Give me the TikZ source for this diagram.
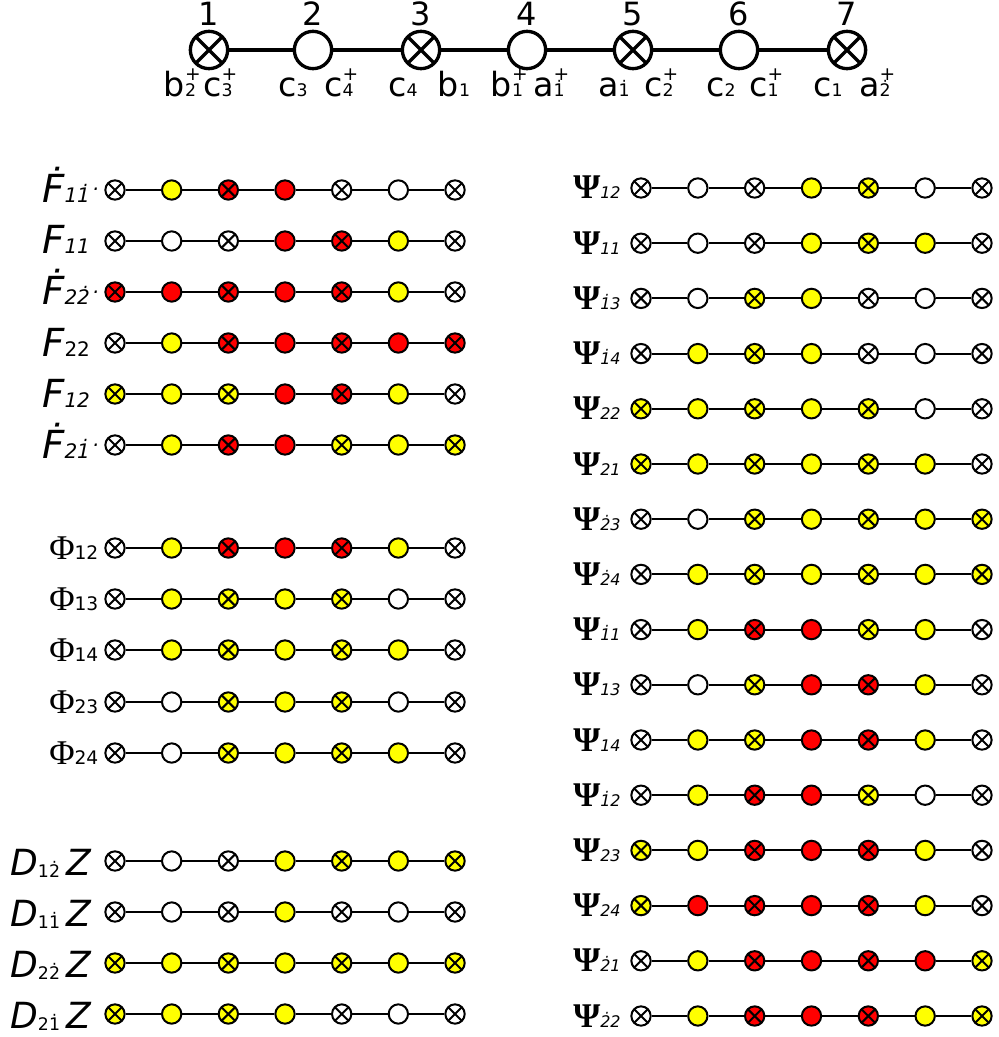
\documentclass[tikz,border=0pt]{standalone}
\usepackage{fontspec}
\setmainfont{DejaVu Sans}
\newfontfamily\grkfont{Liberation Serif}
\definecolor{yel}{RGB}{255,255,0}
\definecolor{rd}{RGB}{255,0,0}
\newcommand\ssb[2]{\rlap{\raisebox{0.5em}{\fontsize{14}{14}\selectfont #1}}{\fontsize{13}{13}\selectfont #2}}
\newcommand\sbonly[1]{{\fontsize{13}{13}\selectfont #1}}
\newcommand\fsub[1]{{\fontsize{15}{15}\selectfont #1}}
\newcommand\ftrail{\raisebox{9pt}{\fontsize{15}{15}\selectfont\,.}}
\newcommand\phisub[1]{{\fontsize{14}{14}\selectfont #1}}
\newcommand\psisub[1]{{\fontsize{12}{12}\selectfont\normalfont\itshape #1}}
\newcommand\dsub[1]{\raisebox{-2pt}{\fontsize{13}{13}\selectfont\upshape #1}}
\newcommand\chainrow[5]{%
  \edef\chainlist{#5}%
  \foreach \c [count=\i] in \chainlist {\node[\c] (#1-\i) at ({#2+(\i-1)*#3},#4) {};}
  \foreach \i [evaluate=\i as \j using {int(\i+1)}] in {1,...,6}{\draw[link] (#1-\i) -- (#1-\j);}%
}
\tikzset{
  base/.style={circle,draw,line width=1.5pt,minimum size=14.5pt,inner sep=0pt},
  crs/.style={path picture={\draw[line width=1.5pt]
      (path picture bounding box.north west) -- (path picture bounding box.south east)
      (path picture bounding box.north east) -- (path picture bounding box.south west);}},
  pw/.style={base,fill=white}, py/.style={base,fill=yel}, pr/.style={base,fill=rd},
  xw/.style={pw,crs}, xy/.style={py,crs}, xr/.style={pr,crs},
  link/.style={line width=1.5pt},
  hp/.style={circle,draw,line width=2.5pt,minimum size=28pt,inner sep=0pt,fill=white},
  hx/.style={hp,path picture={\draw[line width=2.5pt]
      (path picture bounding box.north west) -- (path picture bounding box.south east)
      (path picture bounding box.north east) -- (path picture bounding box.south west);}},
  hlink/.style={line width=2.5pt},
  num/.style={anchor=base,inner sep=0pt,font=\fontsize{24}{24}\selectfont},
  hlab/.style={anchor=base,inner sep=0pt,font=\fontsize{25}{25}\selectfont},
  flab/.style={anchor=base west,inner sep=0pt,font=\fontsize{29}{29}\selectfont\itshape},
  philab/.style={anchor=base west,inner sep=0pt,font=\fontsize{26}{26}\selectfont},
  dlab/.style={anchor=base west,inner sep=0pt,font=\fontsize{27}{27}\selectfont\itshape},
  psilab/.style={anchor=base west,inner sep=0pt,font=\fontsize{26}{26}\selectfont},
}
\begin{document}
\begin{tikzpicture}[x=0.75pt,y=-0.75pt]
\useasboundingbox (0,0) rectangle (998,1037);
% header chain
\node[hx] (h1) at (209,50) {};
\node[hp] (h2) at (313,50) {};
\node[hx] (h3) at (421,50) {};
\node[hp] (h4) at (527,50) {};
\node[hx] (h5) at (633,50) {};
\node[hp] (h6) at (739,50) {};
\node[hx] (h7) at (847,50) {};
\foreach \a/\b in {h1/h2,h2/h3,h3/h4,h4/h5,h5/h6,h6/h7}{\draw[hlink] (\a) -- (\b);}
\foreach \x [count=\k] in {209,313,421,527,633,739,847}{\node[num] (n\k) at (\x,26) {\k};}
% header labels
\node[hlab] (l1a) at (180,97) {b\ssb{+}{2}};
\node[hlab] (l1b) at (218,97) {c\ssb{+}{3}};
\node[hlab] (l2a) at (293,97) {c\sbonly{3}};
\node[hlab] (l2b) at (339,97) {c\ssb{+}{4}};
\node[hlab] (l3a) at (403,97) {c\sbonly{4}};
\node[hlab] (l3b) at (454,97) {b\sbonly{1}};
\node[hlab] (l4a) at (507,97) {b\ssb{+}{1}};
\node[hlab] (l4b) at (549,97) {a\ssb{+}{\.1}};
\node[hlab] (l5a) at (614,97) {a\sbonly{\.1}};
\node[hlab] (l5b) at (659,97) {c\ssb{+}{2}};
\node[hlab] (l6a) at (721,97) {c\sbonly{2}};
\node[hlab] (l6b) at (764,97) {c\ssb{+}{1}};
\node[hlab] (l7a) at (828,97) {c\sbonly{1}};
\node[hlab] (l7b) at (875,97) {a\ssb{+}{\.2}};
% left F block
\def\lx{115}\def\ldx{56.67}
\chainrow{F1}{\lx}{\ldx}{190}{xw,py,xr,pr,xw,pw,xw}
\chainrow{F2}{\lx}{\ldx}{241}{xw,pw,xw,pr,xr,py,xw}
\chainrow{F3}{\lx}{\ldx}{292}{xr,pr,xr,pr,xr,py,xw}
\chainrow{F4}{\lx}{\ldx}{343}{xw,py,xr,pr,xr,pr,xr}
\chainrow{F5}{\lx}{\ldx}{394}{xy,py,xy,pr,xr,py,xw}
\chainrow{F6}{\lx}{\ldx}{445}{xw,py,xr,pr,xy,py,xy}
\node[flab] (tF1) at (42,203) {\.F\fsub{1\.1}\ftrail};
\node[flab] (tF2) at (42,254) {F\fsub{11}};
\node[flab] (tF3) at (42,305) {\.F\fsub{2\.2}\ftrail};
\node[flab] (tF4) at (42,356) {F\fsub{\upshape 22}};
\node[flab] (tF5) at (42,407) {F\fsub{12}};
\node[flab] (tF6) at (42,458) {\.F\fsub{2\.1}\ftrail};
% Phi block
\chainrow{P1}{\lx}{\ldx}{548}{xw,py,xr,pr,xr,py,xw}
\chainrow{P2}{\lx}{\ldx}{599}{xw,py,xy,py,xy,pw,xw}
\chainrow{P3}{\lx}{\ldx}{650}{xw,py,xy,py,xy,py,xw}
\chainrow{P4}{\lx}{\ldx}{702}{xw,pw,xy,py,xy,pw,xw}
\chainrow{P5}{\lx}{\ldx}{753}{xw,pw,xy,py,xy,py,xw}
\node[philab] (tP1) at (49,559) {{\grkfont Φ}\phisub{12}};
\node[philab] (tP2) at (49,610) {{\grkfont Φ}\phisub{13}};
\node[philab] (tP3) at (49,661) {{\grkfont Φ}\phisub{14}};
\node[philab] (tP4) at (49,713) {{\grkfont Φ}\phisub{23}};
\node[philab] (tP5) at (49,764) {{\grkfont Φ}\phisub{24}};
% D block
\chainrow{D1}{\lx}{\ldx}{861}{xw,pw,xw,py,xy,py,xy}
\chainrow{D2}{\lx}{\ldx}{912}{xw,pw,xw,py,xw,pw,xw}
\chainrow{D3}{\lx}{\ldx}{963}{xy,py,xy,py,xy,py,xy}
\chainrow{D4}{\lx}{\ldx}{1014}{xy,py,xy,py,xw,pw,xw}
\node[dlab] (tD1) at (10,875) {D\dsub{1\.2}\,Z};
\node[dlab] (tD2) at (10,926) {D\dsub{1\.1}\,Z};
\node[dlab] (tD3) at (10,977) {D\dsub{2\.2}\,Z};
\node[dlab] (tD4) at (10,1028) {D\dsub{2\.1}\,Z};
% right Psi block
\def\rx{641}\def\rdx{56.83}
\foreach \codes/\sub [count=\r from 0] in {%
  {xw,pw,xw,py,xy,pw,xw}/12,
  {xw,pw,xw,py,xy,py,xw}/11,
  {xw,pw,xy,py,xw,pw,xw}/\.13,
  {xw,py,xy,py,xw,pw,xw}/\.14,
  {xy,py,xy,py,xy,pw,xw}/22,
  {xy,py,xy,py,xy,py,xw}/21,
  {xw,pw,xy,py,xy,py,xy}/\.23,
  {xw,py,xy,py,xy,py,xy}/\.24,
  {xw,py,xr,pr,xy,py,xw}/\.11,
  {xw,pw,xy,pr,xr,py,xw}/13,
  {xw,py,xy,pr,xr,py,xw}/14,
  {xw,py,xr,pr,xy,pw,xw}/\.12,
  {xy,py,xr,pr,xr,py,xw}/23,
  {xy,pr,xr,pr,xr,py,xw}/24,
  {xw,py,xr,pr,xr,pr,xy}/\.21,
  {xw,py,xr,pr,xr,py,xy}/\.22}{%
  \pgfmathsetmacro\ry{188+55.2*\r}
  \chainrow{R\r}{\rx}{\rdx}{\ry}{\codes}
  \node[psilab] (tR\r) at (573,\ry+11) {{\grkfont\bfseries Ψ}\psisub{\sub}};
}
\end{tikzpicture}
\end{document}
